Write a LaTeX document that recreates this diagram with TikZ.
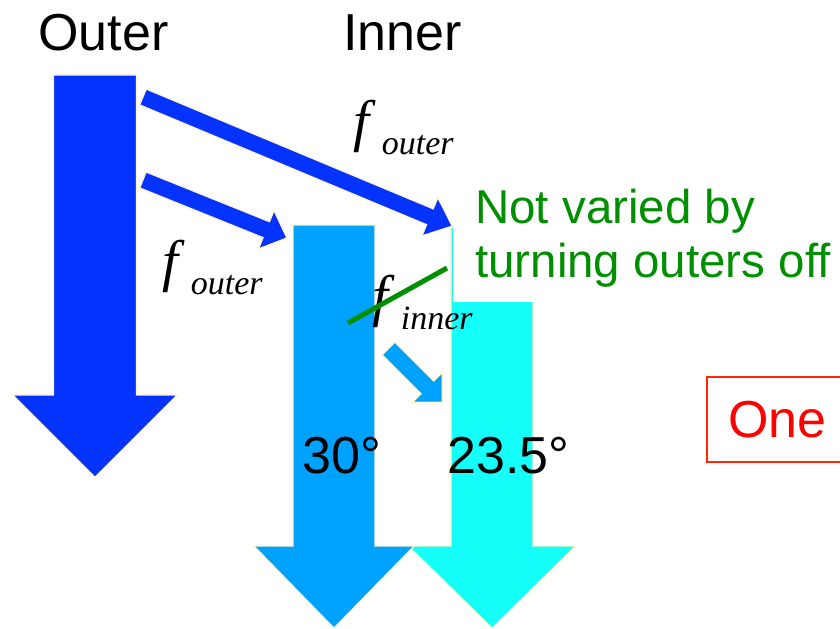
\documentclass[tikz,border=0pt]{standalone}
\usepackage{fontspec}
\setmainfont{Liberation Sans}
\newfontfamily\tnr{Liberation Serif}
\usetikzlibrary{positioning}
\definecolor{couter}{HTML}{0433FF}
\definecolor{cmid}{HTML}{00A2FF}
\definecolor{ccyan}{HTML}{14FFFA}
\definecolor{cgreen}{HTML}{008F00}
\definecolor{cred}{HTML}{FF2600}
\definecolor{cedge}{HTML}{FFF3C8}
\newcommand\fsub[1]{{\tnr\itshape\fontsize{43}{43}\selectfont f\kern9.5pt\raisebox{-11pt}{\fontsize{25.5}{25.5}\selectfont #1}}}
\tikzset{
  every picture/.style={x=0.75pt, y=-0.75pt},
  big/.style={font=\fontsize{39}{45}\selectfont, inner sep=0pt},
  blk/.style={fill=#1, draw=cedge, line width=0.8pt},
  pics/fatarrow/.style args={#1/#2/#3/#4}{code={
    \path[pic actions] (0,-#2/2) -- ({#1-#4},-#2/2) -- ({#1-#4},-#3/2) -- (#1,0) -- ({#1-#4},#3/2) -- ({#1-#4},#2/2) -- (0,#2/2) -- cycle;
  }},
}
\begin{document}
\begin{tikzpicture}
  \useasboundingbox (0,0) rectangle (840,629);
  \clip (0,0) rectangle (840,629);
  \pic[blk=couter, rotate=-90] at (95,75) {fatarrow=402/83/164/82};
  \pic[blk=ccyan, rotate=-90] at (492,227) {fatarrow=401/82/167/82};
  \pic[blk=cmid, rotate=-90] at (334,225) {fatarrow=403/82/160/82};
  \pic[blk=couter, rotate=-22.66] at (143,97) {fatarrow=335/17/41/24};
  \pic[blk=couter, rotate=-21.94] at (143,180) {fatarrow=155/17/41/22};
  \pic[blk=cmid, rotate=-45] at (388.5,348.5) {fatarrow=76/18/42/21};
  \node[big, anchor=base west] (outerlbl) at (38,50) {Outer};
  \node[big, anchor=base west] (innerlbl) at (343,50) {Inner};
  \node[inner sep=0pt, anchor=base west] (fotop) at (353,140) {\fsub{outer}};
  \node[inner sep=0pt, anchor=base west] (fobot) at (162,280) {\fsub{outer}};
  \node[anchor=south west, fill=white, text=cgreen, align=left, font=\fontsize{35.6}{41}\selectfont, inner xsep=16.5pt, inner ysep=10.5pt] (note) at (453,302) {Not varied by\\turning outers off};
  \node[inner sep=0pt, anchor=base west] (finner) at (372,315) {\fsub{inner}};
  \coordinate (strikea) at (348,323);
  \coordinate (strikeb) at (447,268);
  \draw[cgreen, line width=3.75pt] (strikea) -- (strikeb);
  \node[big, anchor=base west] (deg30) at (302,473) {30°};
  \node[big, anchor=base west] (deg235) at (447,473) {23.5°};
  \node[big, text=red, draw=cred, line width=1.5pt, anchor=west, minimum height=63.75pt, inner xsep=15.75pt, text width=90pt] (one) at (706,419.5) {One};
\end{tikzpicture}
\end{document}
